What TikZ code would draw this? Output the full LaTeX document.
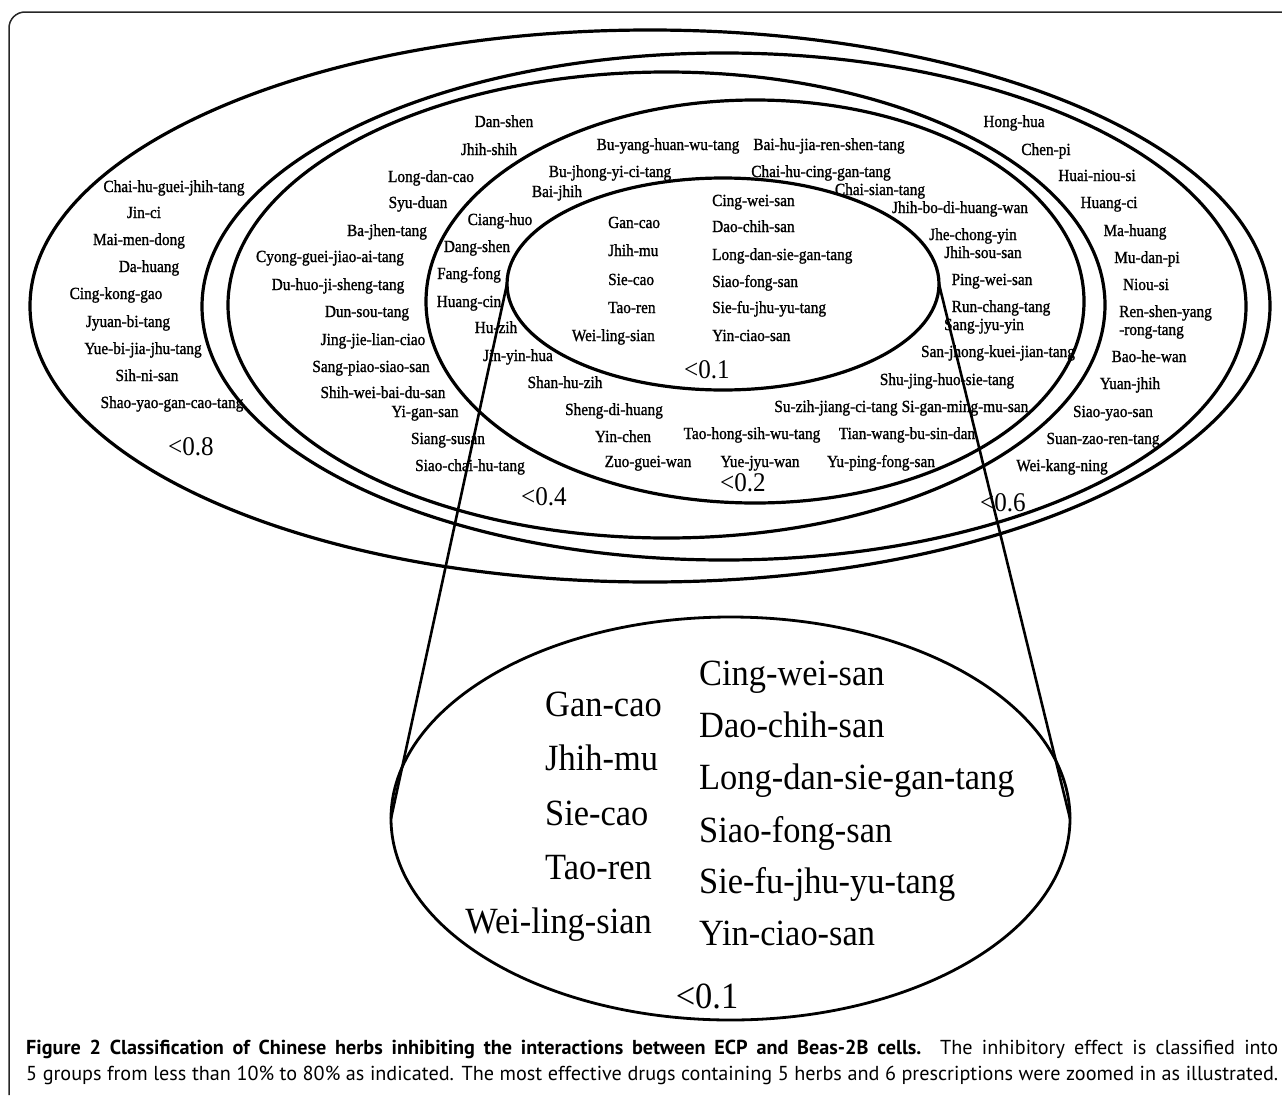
\documentclass[tikz,border=0pt]{standalone}
\usepackage{fontspec}
\setmainfont{Liberation Serif}
\newfontfamily\herbfont[FakeStretch=0.9, FakeBold=1.2]{Liberation Serif}
\newfontfamily\zoomfont[FakeStretch=0.93]{Liberation Serif}
\newfontfamily\capfont{PT Sans}
\usetikzlibrary{shapes.geometric}

\tikzset{
  herb/.style = {font=\herbfont\fontsize{17}{17}\selectfont, inner sep=0pt, text height=12pt, text depth=4pt},
  bigherb/.style = {font=\zoomfont\fontsize{37}{37}\selectfont, inner sep=0pt, anchor=base west},
  cutoff/.style = {font=\zoomfont\fontsize{27}{27}\selectfont, inner sep=0pt},
  ring/.style = {line width=3.2pt},
  capline/.style = {font=\capfont\fontsize{20.2}{20.2}\selectfont, inner sep=0pt, anchor=base west}
}

\begin{document}
\begin{tikzpicture}[x=1pt, y=-1pt]

\useasboundingbox (0,0) rectangle (1282,1095);

\draw[line width = 1.5pt, black!85, rounded corners = 16pt] (9,1095) -- (9,12) -- (1282,12);

\draw[ring] (650,306) ellipse [x radius = 620, y radius = 276];
\draw[ring] (724,306.5) ellipse [x radius = 522, y radius = 253.5];
\draw[ring] (666.5,305) ellipse [x radius = 438.5, y radius = 233];
\draw[ring] (755,301.5) ellipse [x radius = 329, y radius = 201.5];
\node[ring, draw, ellipse, inner sep = 0pt, outer sep = 0pt, minimum width = 432pt, minimum height = 212pt] (inner) at (723,284) {};

%%%%%%%%%%%%%%%%%%%%%%%%%%%%%%%%

\node[herb] (o1) at (174,188) {Chai-hu-guei-jhih-tang};
\node[herb] (o2) at (144,214) {Jin-ci};
\node[herb] (o3) at (139,241) {Mai-men-dong};
\node[herb] (o4) at (149,268) {Da-huang};
\node[herb] (o5) at (116,295) {Cing-kong-gao};
\node[herb] (o6) at (128,323) {Jyuan-bi-tang};
\node[herb] (o7) at (143,350) {Yue-bi-jia-jhu-tang};
\node[herb] (o8) at (147,377) {Sih-ni-san};
\node[herb] (o9) at (172,404) {Shao-yao-gan-cao-tang};
\node[cutoff] (lt8) at (191,447) {<0.8};

%%%%%%%%%%%%%%%%%%%%%%%%%%%%%%%%

\node[herb] (s1) at (1014,123) {Hong-hua};
\node[herb] (s2) at (1046,151) {Chen-pi};
\node[herb] (s3) at (1097,177) {Huai-niou-si};
\node[herb] (s4) at (1109,204) {Huang-ci};
\node[herb] (s5) at (1135,232) {Ma-huang};
\node[herb] (s6) at (1147,259) {Mu-dan-pi};
\node[herb] (s7) at (1146,286) {Niou-si};
\node[herb, anchor = north west, align = left, text height = , text depth = ] (s8) at (1119,305) {Ren-shen-yang\\[1pt]-rong-tang};
\node[herb] (s9) at (1149,358) {Bao-he-wan};
\node[herb] (s10) at (1130,385) {Yuan-jhih};
\node[herb] (s11) at (1113,413) {Siao-yao-san};
\node[herb] (s12) at (1103,440) {Suan-zao-ren-tang};
\node[herb] (s13) at (1062,467) {Wei-kang-ning};
\node[cutoff] (lt6) at (1003,503) {<0.6};

%%%%%%%%%%%%%%%%%%%%%%%%%%%%%%%%

\node[herb] (f1) at (504,123) {Dan-shen};
\node[herb] (f2) at (489,151) {Jhih-shih};
\node[herb] (f3) at (431,178) {Long-dan-cao};
\node[herb] (f4) at (418,204) {Syu-duan};
\node[herb] (f5) at (387,232) {Ba-jhen-tang};
\node[herb] (f6) at (330,258) {Cyong-guei-jiao-ai-tang};
\node[herb] (f7) at (338,286) {Du-huo-ji-sheng-tang};
\node[herb] (f8) at (367,313) {Dun-sou-tang};
\node[herb] (f9) at (373,341) {Jing-jie-lian-ciao};
\node[herb] (f10) at (371,368) {Sang-piao-siao-san};
\node[herb] (f11) at (383,394) {Shih-wei-bai-du-san};
\node[herb] (f12) at (425,413) {Yi-gan-san};
\node[herb] (f13) at (448,440) {Siang-susan};
\node[herb] (f14) at (470,467) {Siao-chai-hu-tang};
\node[cutoff] (lt4) at (544,497) {<0.4};

%%%%%%%%%%%%%%%%%%%%%%%%%%%%%%%%

\node[herb] (t1) at (668,146) {Bu-yang-huan-wu-tang};
\node[herb] (t2) at (829,146) {Bai-hu-jia-ren-shen-tang};
\node[herb] (t3) at (610,173) {Bu-jhong-yi-ci-tang};
\node[herb] (t4) at (821,173) {Chai-hu-cing-gan-tang};
\node[herb] (t5) at (557,193) {Bai-jhih};
\node[herb] (t6) at (880,191) {Chai-sian-tang};
\node[herb] (t7) at (960,209) {Jhih-bo-di-huang-wan};
\node[herb] (t8) at (500,221) {Ciang-huo};
\node[herb] (t9) at (477,248) {Dang-shen};
\node[herb] (t10) at (973,236) {Jhe-chong-yin};
\node[herb] (t11) at (983,254) {Jhih-sou-san};
\node[herb] (t12) at (469,275) {Fang-fong};
\node[herb] (t13) at (992,281) {Ping-wei-san};
\node[herb] (t14) at (469,303) {Huang-cin};
\node[herb] (t15) at (1001,308) {Run-chang-tang};
\node[herb] (t16) at (984,326) {Sang-jyu-yin};
\node[herb] (t17) at (496,329) {Hu-zih};
\node[herb] (t18) at (518,357) {Jin-yin-hua};
\node[herb] (t19) at (998,353) {San-jhong-kuei-jian-tang};
\node[herb] (t20) at (565,384) {Shan-hu-zih};
\node[herb] (t21) at (947,381) {Shu-jing-huo-sie-tang};
\node[herb] (t22) at (614,411) {Sheng-di-huang};
\node[herb] (t23) at (836,408) {Su-zih-jiang-ci-tang};
\node[herb] (t24) at (965,408) {Si-gan-ming-mu-san};
\node[herb] (t25) at (623,438) {Yin-chen};
\node[herb] (t26) at (752,435) {Tao-hong-sih-wu-tang};
\node[herb] (t27) at (907,435) {Tian-wang-bu-sin-dan};
\node[herb] (t28) at (648,463) {Zuo-guei-wan};
\node[herb] (t29) at (760,463) {Yue-jyu-wan};
\node[herb] (t30) at (881,463) {Yu-ping-fong-san};
\node[cutoff] (lt2) at (743,483) {<0.2};

%%%%%%%%%%%%%%%%%%%%%%%%%%%%%%%%

\node[herb, anchor = west] (c1) at (608,224) {Gan-cao};
\node[herb, anchor = west] (c2) at (608,252) {Jhih-mu};
\node[herb, anchor = west] (c3) at (608,281) {Sie-cao};
\node[herb, anchor = west] (c4) at (608,309) {Tao-ren};
\node[herb, anchor = east] (c5) at (655,337) {Wei-ling-sian};

\node[herb, anchor = west] (c6) at (712,202) {Cing-wei-san};
\node[herb, anchor = west] (c7) at (712,228) {Dao-chih-san};
\node[herb, anchor = west] (c8) at (712,256) {Long-dan-sie-gan-tang};
\node[herb, anchor = west] (c9) at (712,283) {Siao-fong-san};
\node[herb, anchor = west] (c10) at (712,309) {Sie-fu-jhu-yu-tang};
\node[herb, anchor = west] (c11) at (712,337) {Yin-ciao-san};
\node[cutoff] (lt1) at (707,370) {<0.1};

%%%%%%%%%%%%%%%%%%%%%%%%%%%%%%%%

\node[draw, ellipse, line width = 2.8pt, inner sep = 0pt, outer sep = 0pt, minimum width = 679pt, minimum height = 403pt] (zoomed) at (730.5,818.5) {};

\draw[line width = 2.6pt] (inner.west) -- (zoomed.west);
\draw[line width = 2.6pt] (inner.east) -- (zoomed.east);

\node[bigherb] (z1) at (545,716) {Gan-cao};
\node[bigherb] (z2) at (545,770) {Jhih-mu};
\node[bigherb] (z3) at (545,825) {Sie-cao};
\node[bigherb] (z4) at (545,879) {Tao-ren};
\node[bigherb, anchor = base east] (z5) at (652,933) {Wei-ling-sian};

\node[bigherb] (z6) at (699,685) {Cing-wei-san};
\node[bigherb] (z7) at (699,737) {Dao-chih-san};
\node[bigherb] (z8) at (699,789) {Long-dan-sie-gan-tang};
\node[bigherb] (z9) at (699,842) {Siao-fong-san};
\node[bigherb] (z10) at (699,893) {Sie-fu-jhu-yu-tang};
\node[bigherb] (z11) at (699,945) {Yin-ciao-san};
\node[bigherb, anchor = base] (z12) at (707,1008) {<0.1};

%%%%%%%%%%%%%%%%%%%%%%%%%%%%%%%%

\node[capline] (cap1) at (26,1054) {\makebox[1252pt][s]{\textbf{Figure 2 Classification of Chinese herbs inhibiting the interactions between ECP and Beas-2B cells.} The inhibitory effect is classified into}};
\node[capline] (cap2) at (26,1080) {\makebox[1252pt][s]{5 groups from less than 10\% to 80\% as indicated. The most effective drugs containing 5 herbs and 6 prescriptions were zoomed in as illustrated.}};

\end{tikzpicture}
\end{document}
